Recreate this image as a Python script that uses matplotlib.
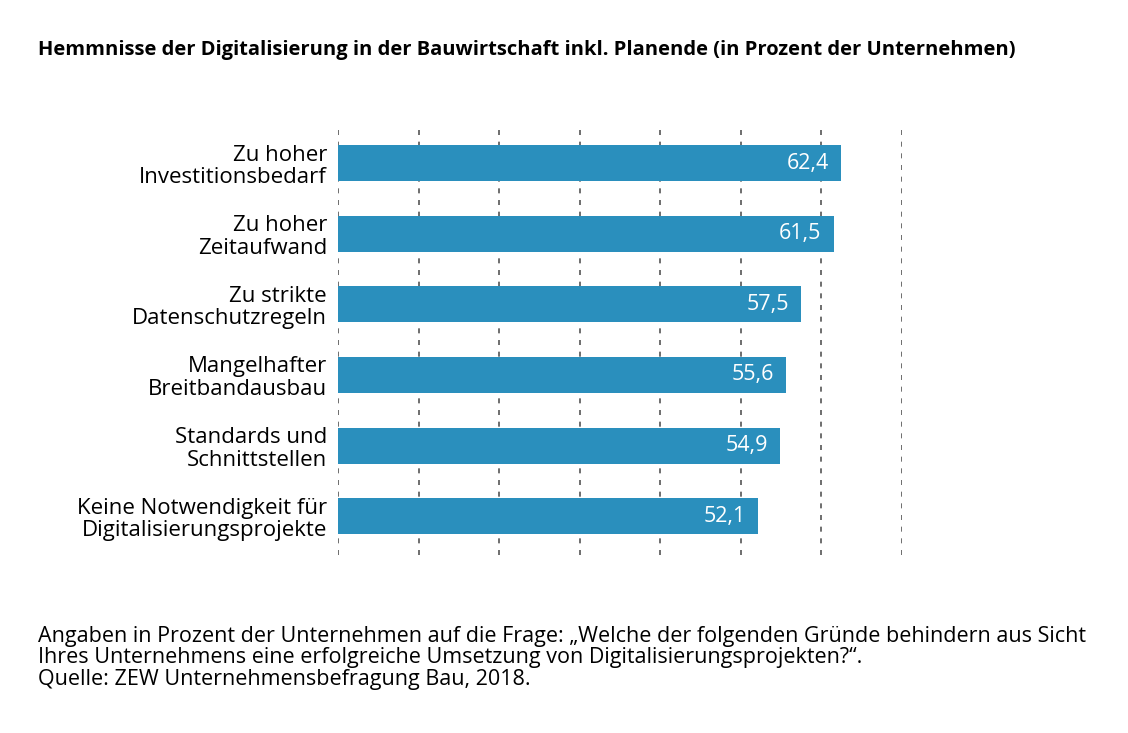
import matplotlib
matplotlib.use("Agg")
import matplotlib.pyplot as plt

categories = ["Zu hoher\nInvestitionsbedarf", "Zu hoher\nZeitaufwand", "Zu strikte\nDatenschutzregeln",
              "Mangelhafter\nBreitbandausbau", "Standards und\nSchnittstellen",
              "Keine Notwendigkeit für\nDigitalisierungsprojekte"]
values = [62.4, 61.5, 57.5, 55.6, 54.9, 52.1]
labels = ["62,4", "61,5", "57,5", "55,6", "54,9", "52,1"]

plt.rcParams['font.family'] = ['Open Sans', 'DejaVu Sans']
fig = plt.figure(figsize=(11.28, 7.33), dpi=100)
ax = fig.add_axes([338/1128, 1-555/733, 564/1128, 425/733])
y = list(range(len(values)))
ax.barh(y, values, height=0.51, color='#2a8fbd', zorder=3)
ax.set_ylim(5.55, -0.47)
ax.set_xlim(0, 70)
for xv in range(0, 71, 10):
    ax.axvline(xv, color='#555555', lw=1.2, ls=(0, (3, 4)), zorder=1)
for yi, v, l in zip(y, values, labels):
    ax.text(v - 1.5, yi, l, ha='right', va='center', color='white', fontsize=15.5, zorder=4)
ax.set_yticks(y)
ax.set_yticklabels(categories, fontsize=16, ha='right', linespacing=1.1)
ax.tick_params(axis='y', length=0, pad=8)
ax.set_xticks([])
for s in ax.spines.values():
    s.set_visible(False)
fig.text(38/1128, 1-50/733, "Hemmnisse der Digitalisierung in der Bauwirtschaft inkl. Planende (in Prozent der Unternehmen)",
         fontsize=14.5, fontweight='bold', va='center')
fig.text(38/1128, 1-658/733,
         "Angaben in Prozent der Unternehmen auf die Frage: „Welche der folgenden Gründe behindern aus Sicht\n"
         "Ihres Unternehmens eine erfolgreiche Umsetzung von Digitalisierungsprojekten?“.\n"
         "Quelle: ZEW Unternehmensbefragung Bau, 2018.",
         fontsize=15.5, va='center', linespacing=1.05)
fig.savefig("out.png", dpi=100)
